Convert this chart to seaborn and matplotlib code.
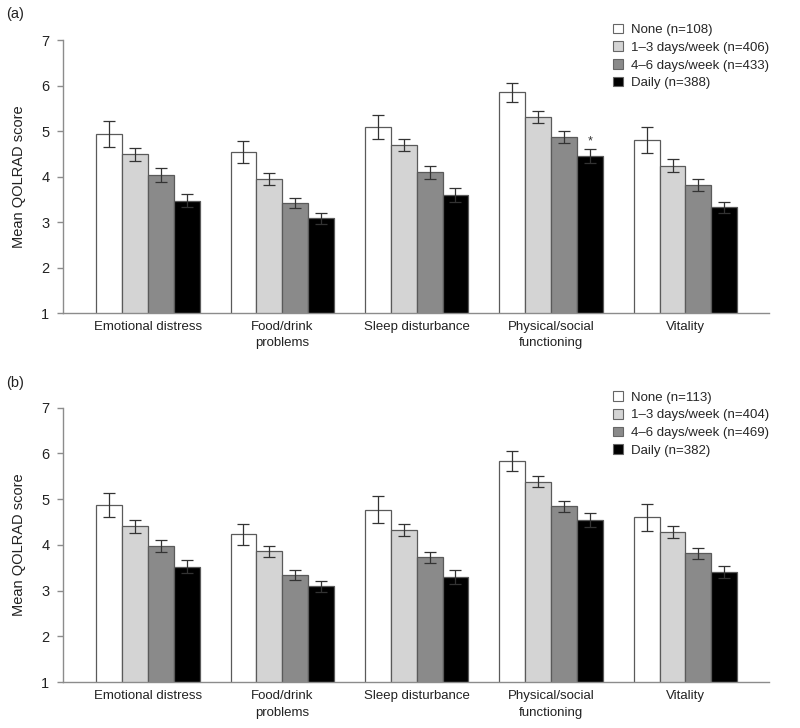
import numpy as np
import pandas as pd
import matplotlib
matplotlib.use('Agg')
from matplotlib import pyplot as plt
from matplotlib.patches import Patch
import seaborn as sns

domains = ['Emotional distress', 'Food/drink\nproblems', 'Sleep disturbance',
           'Physical/social\nfunctioning', 'Vitality']
freqs = ['None', '1–3 days/week', '4–6 days/week', 'Daily']
colors = ['#ffffff', '#d4d4d4', '#8a8a8a', '#000000']

############################ panel (a) ###############################
n_a = [108, 406, 433, 388]
none_a = [4.94, 4.54, 5.09, 5.85, 4.80]
low_a = [4.49, 3.94, 4.69, 5.31, 4.24]
mid_a = [4.03, 3.41, 4.09, 4.87, 3.82]
daily_a = [3.47, 3.08, 3.59, 4.45, 3.32]
err_none_a = [0.29, 0.25, 0.27, 0.21, 0.29]
err_low_a = [0.14, 0.13, 0.13, 0.13, 0.15]
err_mid_a = [0.15, 0.11, 0.14, 0.14, 0.13]
err_daily_a = [0.15, 0.12, 0.16, 0.15, 0.13]

############################ panel (b) ###############################
n_b = [113, 404, 469, 382]
none_b = [4.87, 4.23, 4.77, 5.83, 4.60]
low_b = [4.41, 3.86, 4.33, 5.38, 4.28]
mid_b = [3.97, 3.34, 3.73, 4.84, 3.82]
daily_b = [3.52, 3.10, 3.30, 4.54, 3.41]
err_none_b = [0.27, 0.23, 0.30, 0.22, 0.30]
err_low_b = [0.14, 0.12, 0.13, 0.12, 0.13]
err_mid_b = [0.13, 0.11, 0.12, 0.13, 0.12]
err_daily_b = [0.14, 0.12, 0.16, 0.15, 0.13]

sns.set_style('white')
plt.rcParams['font.family'] = ['Liberation Sans', 'DejaVu Sans']


def make_frame(series):
    rows = []
    for f, vals in zip(freqs, series):
        for d, v in zip(domains, vals):
            rows.append({'domain': d, 'freq': f, 'score': v})
    return pd.DataFrame(rows)


def draw_panel(ax, series, errs, ns, star=False):
    data = make_frame(series)
    sns.barplot(data=data, x='domain', y='score', hue='freq', order=domains,
                hue_order=freqs, palette=colors, errorbar=None, width=0.77,
                edgecolor='#5a5a5a', linewidth=0.9, legend=False, ax=ax)
    # error bars placed on the bars seaborn drew
    for cont, err in zip(ax.containers, errs):
        xs = [p.get_x() + p.get_width() / 2 for p in cont]
        ys = [p.get_height() for p in cont]
        ax.errorbar(xs, ys, yerr=err, fmt='none', ecolor='#333333',
                    elinewidth=0.9, capsize=4, capthick=0.9)
    if star:
        p = ax.containers[3][3]
        ax.text(p.get_x() + p.get_width() / 2, p.get_height() + errs[3][3] + 0.04,
                '*', ha='center', va='bottom', fontsize=9, color='#333333')

    ax.set_ylim(1, 7)
    ax.set_xlim(-0.63, 4.62)
    ax.set_yticks(range(1, 8))
    ax.set_xlabel('')
    ax.set_ylabel('Mean QOLRAD score', fontsize=10.5, labelpad=11, color='#222222')
    sns.despine(ax=ax)
    for s in ['left', 'bottom']:
        ax.spines[s].set_color('#8c8c8c')
        ax.spines[s].set_linewidth(1.0)
    ax.tick_params(axis='y', left=True, length=4, width=1.0, color='#8c8c8c',
                   labelsize=10.5, labelcolor='#222222', pad=6)
    ax.tick_params(axis='x', bottom=False, length=0, labelsize=9.5,
                   labelcolor='#222222', pad=6)
    for lab in ax.get_xticklabels():
        lab.set_linespacing(1.45)

    handles = [Patch(facecolor=c, edgecolor='#666666', linewidth=0.8) for c in colors]
    labels = [f'{f} (n={n})' for f, n in zip(freqs, ns)]
    ax.legend(handles, labels, loc='upper right', bbox_to_anchor=(1.0, 1.06),
              frameon=False, fontsize=9.5, handlelength=0.75, handleheight=0.75,
              handletextpad=0.6, labelspacing=0.4, borderpad=0, borderaxespad=0)


fig = plt.figure(figsize=(8, 7.28), dpi=100)
ax_a = fig.add_axes([0.079, 0.570, 0.882, 0.375])
ax_b = fig.add_axes([0.079, 0.063, 0.882, 0.377])

draw_panel(ax_a, [none_a, low_a, mid_a, daily_a],
           [err_none_a, err_low_a, err_mid_a, err_daily_a], n_a, star=True)
draw_panel(ax_b, [none_b, low_b, mid_b, daily_b],
           [err_none_b, err_low_b, err_mid_b, err_daily_b], n_b)

fig.text(0.008, 1 - 14 / 728, '(a)', fontsize=10.5, va='center', color='#222222')
fig.text(0.008, 1 - 383 / 728, '(b)', fontsize=10.5, va='center', color='#222222')

plt.savefig('out.png', dpi=100)
